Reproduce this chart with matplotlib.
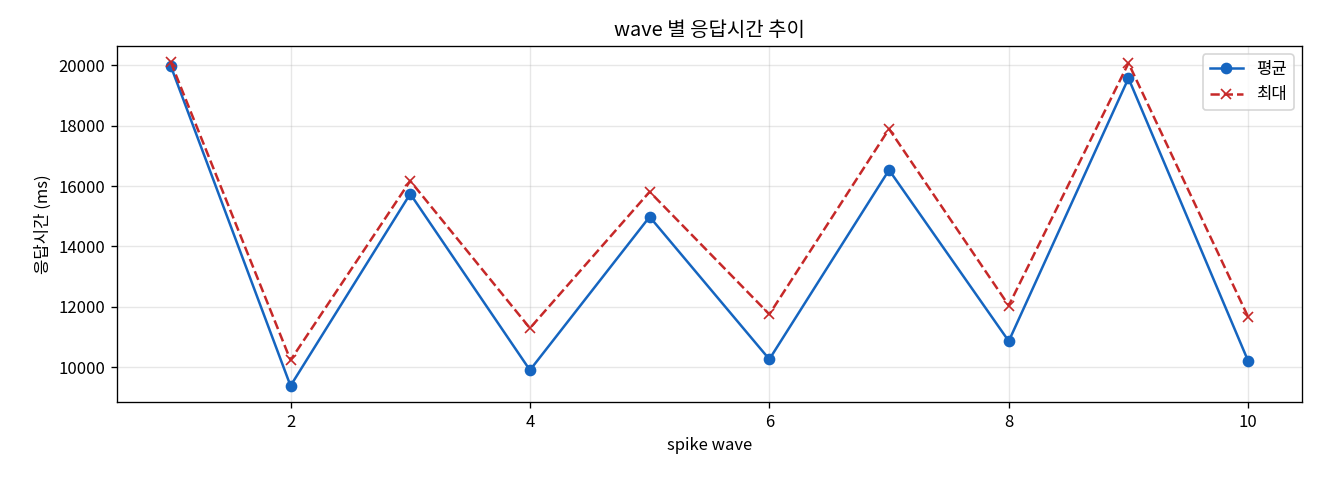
import numpy as np
import matplotlib.pyplot as plt

plt.rcParams['font.family'] = ['Noto Sans CJK KR', 'DejaVu Sans']
plt.rcParams['axes.unicode_minus'] = False

# spike wave 번호
waves = [1, 2, 3, 4, 5, 6, 7, 8, 9, 10]

# 평균 / 최대 응답시간 (ms)
avg_ms = [19970, 9380, 15740, 9900, 14980, 10260, 16530, 10860, 19570, 10200]
max_ms = [20100, 10230, 16170, 11290, 15810, 11750, 17890, 12040, 20070, 11660]

fig, ax = plt.subplots(figsize=(11, 4), dpi=120)

ax.plot(waves, avg_ms, marker='o', color='#1565C0', linewidth=1.5,
        markersize=6, label='평균')
ax.plot(waves, max_ms, marker='x', linestyle='--', color='#C62828',
        linewidth=1.5, markersize=6, label='최대')

ax.set_title('wave 별 응답시간 추이')
ax.set_xlabel('spike wave')
ax.set_ylabel('응답시간 (ms)')
ax.grid(True, alpha=0.3)
ax.legend(loc='upper right')

plt.subplots_adjust(left=0.0886, right=0.9864, top=0.904, bottom=0.1625)
plt.savefig('out.png')
